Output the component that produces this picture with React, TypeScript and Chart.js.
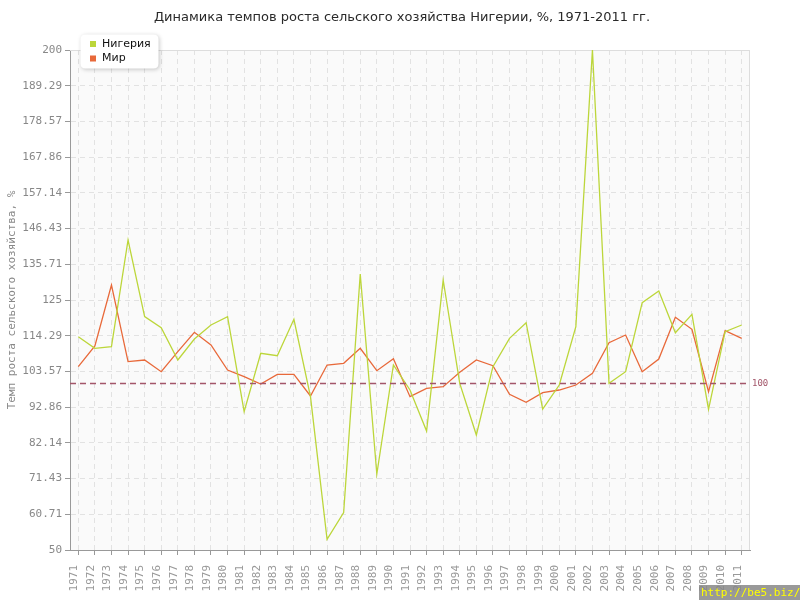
import React, { useEffect, useRef } from "react";
import { Chart, registerables } from "chart.js";

Chart.register(...registerables);

const TITLE = "Динамика темпов роста сельского хозяйства Нигерии, %, 1971-2011 гг.";
const Y_TITLE = "Темп роста сельского хозяйства, %";
const WATERMARK = "http://be5.biz/";

const years = [
  "1971", "1972", "1973", "1974", "1975", "1976", "1977", "1978", "1979", "1980",
  "1981", "1982", "1983", "1984", "1985", "1986", "1987", "1988", "1989", "1990",
  "1991", "1992", "1993", "1994", "1995", "1996", "1997", "1998", "1999", "2000",
  "2001", "2002", "2003", "2004", "2005", "2006", "2007", "2008", "2009", "2010",
  "2011",
];

const nigeria = [
  114.0, 110.5, 111.0, 143.0, 120.0, 116.7, 107.0, 113.3, 117.5, 120.0,
  91.5, 109.0, 108.3, 119.2, 96.0, 53.2, 61.2, 132.8, 72.8, 105.5,
  98.0, 85.7, 131.0, 100.0, 84.5, 105.0, 113.5, 118.2, 92.3, 99.5,
  117.0, 200.0, 100.0, 103.5, 124.2, 127.7, 115.2, 120.7, 92.2, 115.5,
  117.5,
];

const world = [
  105.0, 111.2, 129.5, 106.5, 107.0, 103.5, 109.5, 115.3, 111.5, 104.0,
  102.0, 99.8, 102.7, 102.7, 96.2, 105.5, 106.0, 110.5, 103.8, 107.4,
  96.0, 98.5, 99.0, 103.3, 107.0, 105.3, 96.7, 94.3, 97.2, 98.0,
  99.5, 103.0, 112.2, 114.5, 103.5, 107.3, 119.8, 116.2, 97.5, 115.8,
  113.5,
];

const yTicks = [50, 60.71, 71.43, 82.14, 92.86, 103.57, 114.29, 125, 135.71, 146.43, 157.14, 167.86, 178.57, 189.29, 200];

const REF_VALUE = 100;
const seriesNames = ["Нигерия", "Мир"];
const seriesColors = ["#bcd63a", "#e8693a"];
const REF_COLOR = "#a3566a";

const decorPlugin = {
  id: "decor",
  beforeDraw(chart: any) {
    const { ctx, chartArea: a } = chart;
    ctx.save();
    ctx.fillStyle = "#ffffff";
    ctx.fillRect(0, 0, chart.width, chart.height);
    ctx.fillStyle = "#fafafa";
    ctx.fillRect(a.left, a.top, a.right - a.left, a.bottom - a.top);
    ctx.restore();
  },
  beforeDatasetsDraw(chart: any) {
    const { ctx, chartArea: a } = chart;
    ctx.save();
    ctx.strokeStyle = "#dddddd";
    ctx.lineWidth = 1;
    ctx.beginPath();
    ctx.moveTo(a.left, a.top + 0.5);
    ctx.lineTo(a.right - 0.5, a.top + 0.5);
    ctx.lineTo(a.right - 0.5, a.bottom);
    ctx.stroke();
    ctx.restore();
  },
  afterDatasetsDraw(chart: any) {
    const { ctx, chartArea: a } = chart;
    const y = Math.round(chart.scales.y.getPixelForValue(REF_VALUE)) + 0.5;
    ctx.save();
    ctx.strokeStyle = REF_COLOR;
    ctx.lineWidth = 1.5;
    ctx.setLineDash([6, 4]);
    ctx.beginPath();
    ctx.moveTo(a.left, y);
    ctx.lineTo(a.right, y);
    ctx.stroke();
    ctx.setLineDash([]);
    ctx.fillStyle = REF_COLOR;
    ctx.font = '9px "DejaVu Sans Mono"';
    ctx.textAlign = "left";
    ctx.textBaseline = "middle";
    ctx.fillText(String(REF_VALUE), a.right + 2, y);
    ctx.restore();
  },
  afterDraw(chart: any) {
    const { ctx } = chart;
    ctx.save();
    // title
    ctx.fillStyle = "#2a2a2a";
    ctx.font = '13px "DejaVu Sans"';
    ctx.textAlign = "center";
    ctx.textBaseline = "middle";
    ctx.fillText(TITLE, 402, 18);

    // legend box
    const bx = 80.5, by = 34.5, bw = 78, bh = 34, r = 5;
    ctx.shadowColor = "rgba(0,0,0,0.22)";
    ctx.shadowBlur = 4;
    ctx.shadowOffsetX = 1;
    ctx.shadowOffsetY = 1;
    ctx.fillStyle = "#ffffff";
    ctx.beginPath();
    ctx.moveTo(bx + r, by);
    ctx.lineTo(bx + bw - r, by);
    ctx.quadraticCurveTo(bx + bw, by, bx + bw, by + r);
    ctx.lineTo(bx + bw, by + bh - r);
    ctx.quadraticCurveTo(bx + bw, by + bh, bx + bw - r, by + bh);
    ctx.lineTo(bx + r, by + bh);
    ctx.quadraticCurveTo(bx, by + bh, bx, by + bh - r);
    ctx.lineTo(bx, by + r);
    ctx.quadraticCurveTo(bx, by, bx + r, by);
    ctx.closePath();
    ctx.fill();
    ctx.shadowColor = "transparent";
    ctx.shadowBlur = 0;
    ctx.shadowOffsetX = 0;
    ctx.shadowOffsetY = 0;

    ctx.font = '11px "DejaVu Sans"';
    ctx.textAlign = "left";
    ctx.textBaseline = "middle";
    seriesNames.forEach((name, i) => {
      const cy = 44 + i * 14.5;
      ctx.fillStyle = seriesColors[i];
      ctx.fillRect(90, cy - 3, 6, 6);
      ctx.fillStyle = "#111111";
      ctx.fillText(name, 102, cy);
    });

    // watermark
    ctx.fillStyle = "rgba(135,135,135,0.85)";
    ctx.fillRect(699, 585, 101, 15);
    ctx.fillStyle = "#ffff00";
    ctx.font = '11px "DejaVu Sans Mono"';
    ctx.textAlign = "left";
    ctx.textBaseline = "middle";
    ctx.fillText(WATERMARK, 701, 593);
    ctx.restore();
  },
};

export default function App() {
  const ref = useRef<HTMLCanvasElement | null>(null);

  useEffect(() => {
    if (!ref.current) return;
    const chart = new Chart(ref.current, {
      type: "line",
      data: {
        labels: years,
        datasets: [
          {
            label: seriesNames[0],
            data: nigeria,
            borderColor: seriesColors[0],
            backgroundColor: seriesColors[0],
            borderWidth: 1.3,
            pointRadius: 0,
            tension: 0,
          },
          {
            label: seriesNames[1],
            data: world,
            borderColor: seriesColors[1],
            backgroundColor: seriesColors[1],
            borderWidth: 1.3,
            pointRadius: 0,
            tension: 0,
          },
        ],
      },
      options: {
        responsive: false,
        animation: false,
        devicePixelRatio: 1,
        layout: { padding: { top: 50, right: 50, left: 0, bottom: 0 } },
        plugins: {
          legend: { display: false },
          title: { display: false },
          tooltip: { enabled: false },
        },
        scales: {
          x: {
            type: "category",
            offset: true,
            grid: {
              offset: false,
              color: "#e2e2e2",
              lineWidth: 1,
              tickColor: "#999999",
              tickLength: 5,
              tickBorderDash: [],
            },
            border: { display: true, color: "#999999", width: 1, dash: [5, 4] },
            ticks: {
              autoSkip: false,
              maxRotation: 90,
              minRotation: 90,
              padding: 10,
              labelOffset: -4,
              color: "#999999",
              font: { family: "DejaVu Sans Mono", size: 11 },
            },
            afterFit(scale: any) {
              scale.height = 50;
            },
          },
          y: {
            type: "linear",
            min: 50,
            max: 200,
            afterBuildTicks(scale: any) {
              scale.ticks = yTicks.map((v) => ({ value: v }));
            },
            grid: {
              color: "#e2e2e2",
              lineWidth: 1,
              tickColor: "#999999",
              tickLength: 5,
              tickBorderDash: [],
            },
            border: { display: true, color: "#999999", width: 1, dash: [5, 4] },
            ticks: {
              padding: 3,
              color: "#888888",
              font: { family: "DejaVu Sans Mono", size: 11 },
              callback: (v: any) => String(v),
            },
            title: {
              display: true,
              text: Y_TITLE,
              color: "#888888",
              font: { family: "DejaVu Sans Mono", size: 11 },
              padding: { top: 6, bottom: 0 },
            },
            afterFit(scale: any) {
              scale.width = 70;
            },
          },
        },
      },
      plugins: [decorPlugin],
    });
    return () => chart.destroy();
  }, []);

  return (
    <div style={{ position: "fixed", left: 0, top: 0, width: 800, height: 600 }}>
      <canvas ref={ref} width={800} height={600} style={{ width: 800, height: 600 }} />
    </div>
  );
}
